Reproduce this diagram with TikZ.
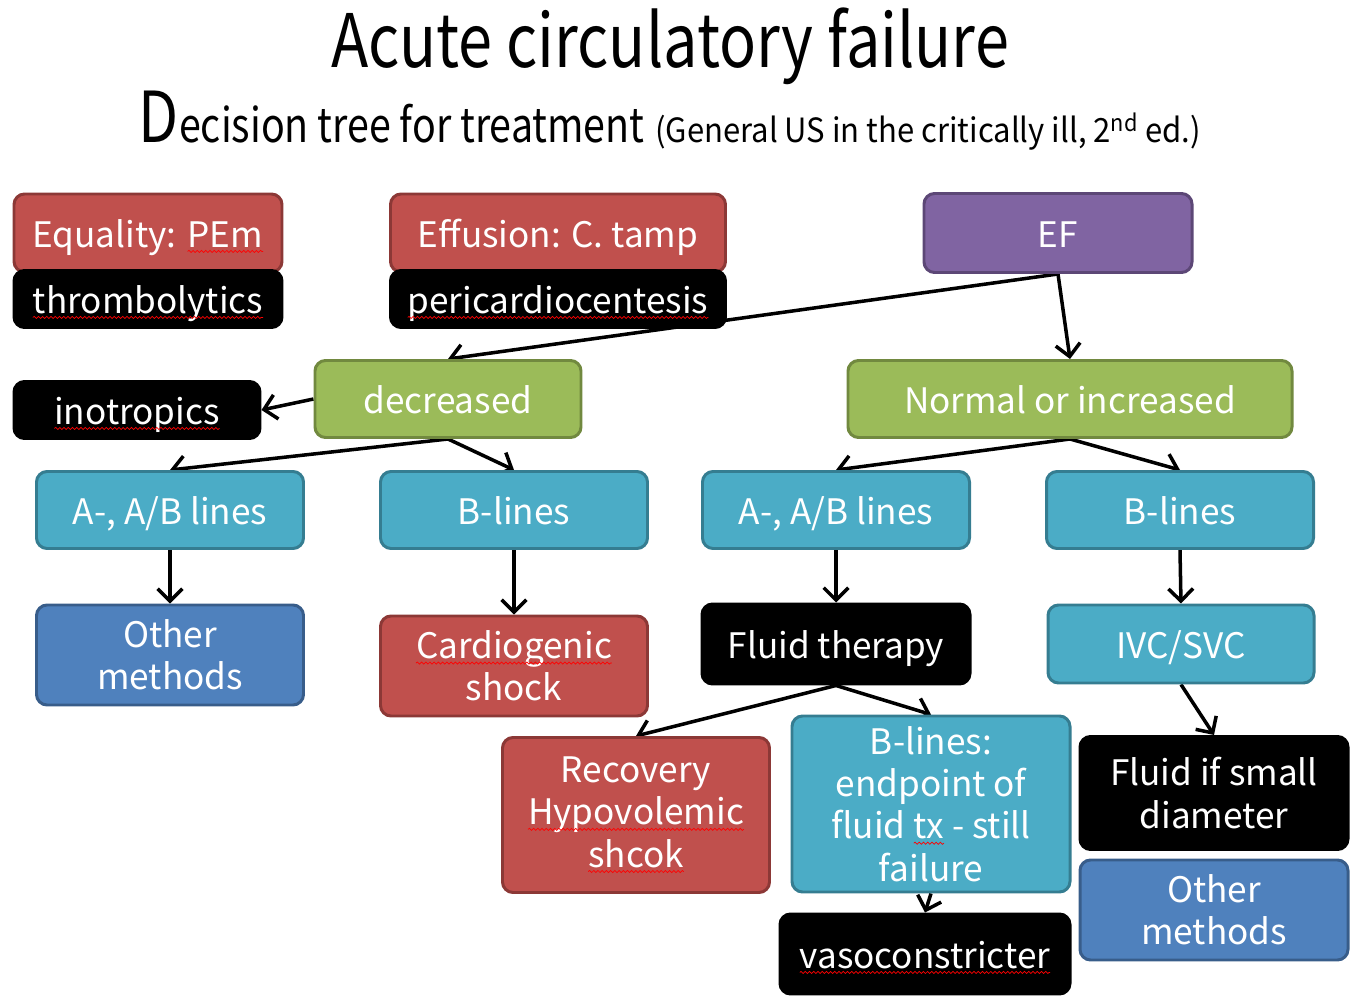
\documentclass[tikz,border=0pt]{standalone}
\usepackage{fontspec}
\setmainfont{Noto Sans CJK KR}
\newfontfamily\narrowfont[FakeStretch=0.83]{Noto Sans CJK KR}
\newfontfamily\semifont[FakeStretch=0.93]{Noto Sans CJK KR}
\usetikzlibrary{arrows.meta,backgrounds,decorations.pathmorphing}
\definecolor{redfill}{HTML}{C0504D}
\definecolor{redline}{HTML}{8C3836}
\definecolor{purplefill}{HTML}{8064A2}
\definecolor{purpleline}{HTML}{5C4776}
\definecolor{greenfill}{HTML}{9BBB59}
\definecolor{greenline}{HTML}{71893F}
\definecolor{cyanfill}{HTML}{4BACC6}
\definecolor{cyanline}{HTML}{357D91}
\definecolor{bluefill}{HTML}{4F81BD}
\definecolor{blueline}{HTML}{385D8A}
% red spell-check wave under a word
\newcommand\sqw[1]{\tikz[baseline=(w.base), x=1cm, y=1cm]{\node[inner sep=0pt, outer sep=0pt,
    minimum width=0pt, minimum height=0pt, text height=, text depth=, draw=none, fill=none, text=white] (w) {#1};
  \draw[red, line width=0.4pt, sharp corners, decorate, decoration={snake, amplitude=0.6pt, segment length=2.4pt}]
    ([yshift=-2.5pt]w.base west) -- ([yshift=-2.5pt]w.base east);}}
\tikzset{
  box/.style={rounded corners=6pt, line width=1.7pt, text=white, align=center,
    font=\fontsize{20}{24}\selectfont, inner sep=0pt},
  oneline/.style={text height=18pt, text depth=2pt},
  sz/.style 2 args={minimum width=#1*0.02cm, minimum height=#2*0.02cm},
  redbox/.style={box, fill=redfill, draw=redline},
  purplebox/.style={box, fill=purplefill, draw=purpleline},
  greenbox/.style={box, fill=greenfill, draw=greenline},
  cyanbox/.style={box, fill=cyanfill, draw=cyanline},
  bluebox/.style={box, fill=bluefill, draw=blueline},
  blackbox/.style={box, fill=black, draw=black},
  arr/.style={line width=2pt, -{Straight Barb[length=7pt,width=14pt]}}
}
\begin{document}
\begin{tikzpicture}[x=0.02cm, y=-0.02cm]
  \useasboundingbox (0,0) rectangle (1357,1003);
  \node[anchor=base] (title) at (670,68) {\narrowfont\fontsize{42}{50}\selectfont Acute circulatory failure};
  \node[anchor=base] (sub) at (670,143) {{\narrowfont\fontsize{40}{50}\selectfont D}{\narrowfont\fontsize{27}{30}\selectfont ecision tree for treatment}\hspace{6pt}%
    {\semifont\fontsize{19}{22}\selectfont (General US in the critically ill, 2\textsuperscript{nd} ed.)}};
  % top row
  \node[redbox, oneline, sz={268}{78}] (equal) at (148,233) {Equality: \sqw{PEm}};
  \node[blackbox, oneline, sz={268}{57}] (thromb) at (148,299) {\sqw{thrombolytics}};
  \node[redbox, oneline, sz={335}{78}] (effus) at (558,233) {Effusion: C. tamp};
  \node[blackbox, oneline, sz={335}{57}] (peric) at (558,299) {\sqw{pericardiocentesis}};
  \node[purplebox, oneline, sz={268}{79}] (ef) at (1058,233) {EF};
  % second row
  \node[greenbox, oneline, sz={266}{77}] (decr) at (448,399) {decreased};
  \node[blackbox, oneline, sz={246}{57}] (inotr) at (137,410) {\sqw{inotropics}};
  \node[greenbox, oneline, sz={444}{77}] (normal) at (1070,399) {Normal or increased};
  % lung patterns
  \node[cyanbox, oneline, sz={267}{77}] (abl) at (170,510) {A-, A/B lines};
  \node[cyanbox, oneline, sz={267}{77}] (bl) at (514,510) {B-lines};
  \node[cyanbox, oneline, sz={267}{77}] (abr) at (836,510) {A-, A/B lines};
  \node[cyanbox, oneline, sz={267}{77}] (br) at (1180,510) {B-lines};
  % outcomes
  \node[bluebox, sz={267}{100}] (otherl) at (170,655) {Other\\methods};
  \node[redbox, sz={267}{100}] (cardio) at (514,666) {\sqw{Cardiogenic}\\shock};
  \node[blackbox, oneline, sz={268}{80}] (fluid) at (836,644) {Fluid therapy};
  \node[cyanbox, oneline, sz={266}{78}] (ivc) at (1181,644) {IVC/SVC};
  \node[redbox, sz={267}{155}] (recov) at (636,815) {Recovery\\\sqw{Hypovolemic}\\\sqw{shcok}};
  \node[cyanbox, sz={278}{176}] (bend) at (931,804) {B-lines:\\endpoint of\\fluid \sqw{tx} - still\\failure};
  \node[blackbox, sz={268}{113}] (fsmall) at (1214,793) {Fluid if small\\diameter};
  \node[bluebox, sz={268}{100}] (otherr) at (1214,910) {Other\\methods};
  \node[blackbox, oneline, sz={290}{80}] (vaso) at (925,954) {\sqw{vasoconstricter}};
  \begin{scope}[on background layer]
    \draw[arr] (ef.south) -- (decr.north);
    \draw[arr] (ef.south) -- (normal.north);
    \draw[arr] (decr.west) -- (inotr.east);
    \draw[arr] (decr.south) -- (abl.north);
    \draw[arr] (decr.south) -- (bl.north);
    \draw[arr] (normal.south) -- (abr.north);
    \draw[arr] (normal.south) -- (br.north);
    \draw[arr] (abl.south) -- (otherl.north);
    \draw[arr] (bl.south) -- (cardio.north);
    \draw[arr] (abr.south) -- (fluid.north);
    \draw[arr] (br.south) -- (ivc.north);
    \draw[arr] (fluid.south) -- (recov.north);
    \draw[arr] (fluid.south) -- (bend.north);
    \draw[arr] (bend.south) -- (vaso.north);
    \draw[arr] (ivc.south) -- (fsmall.north);
  \end{scope}
\end{tikzpicture}
\end{document}
